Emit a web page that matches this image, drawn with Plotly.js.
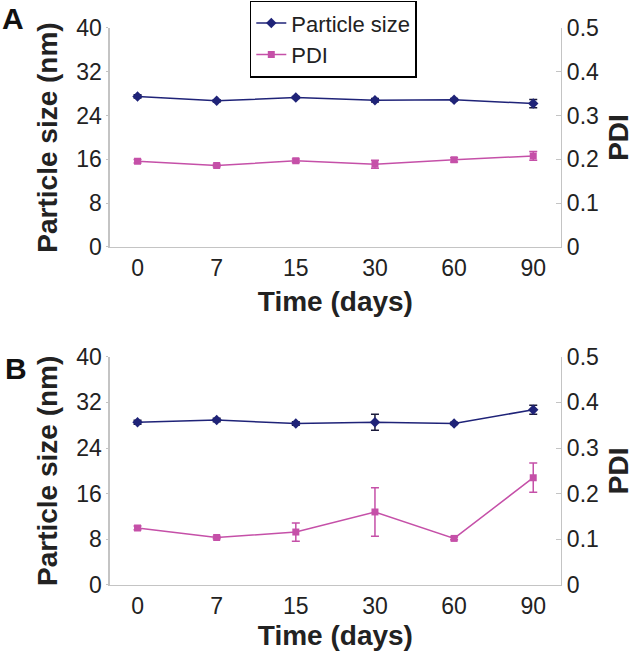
<!DOCTYPE html>
<html>
<head>
<meta charset="utf-8">
<script src="https://cdn.plot.ly/plotly-3.0.1.min.js"></script>
<style>
  html, body { margin: 0; padding: 0; background: #fff; }
  #chart { width: 634px; height: 651px; }
</style>
</head>
<body>
<div id="chart"></div>
<script>
// days after preparation
let days = ['0', '7', '15', '30', '60', '90'];

// panel A
let sizeA = [27.5, 26.7, 27.3, 26.8, 26.9, 26.2];
let sizeErrA = [0.3, 0.2, 0.2, 0.3, 0.2, 0.75];
let pdiA = [0.196, 0.186, 0.197, 0.189, 0.199, 0.208];
let pdiErrA = [0.004, 0.003, 0.004, 0.009, 0.005, 0.01];

// panel B
let sizeB = [28.5, 28.9, 28.3, 28.5, 28.3, 30.7];
let sizeErrB = [0.35, 0.3, 0.3, 1.4, 0.2, 0.8];
let pdiB = [0.125, 0.104, 0.116, 0.160, 0.102, 0.235];
let pdiErrB = [0.004, 0.003, 0.02, 0.053, 0.003, 0.032];

let navy = '#1f2378';
let pink = '#c550a8';
let font = '"Liberation Sans", Arial, sans-serif';

function sizeTrace(y, err, xa, ya, show) {
  return {
    x: days, y: y, xaxis: xa, yaxis: ya,
    name: 'Particle size', type: 'scatter', mode: 'lines+markers',
    showlegend: show,
    line: {color: navy, width: 1.5},
    marker: {symbol: 'diamond', size: 8, color: navy},
    error_y: {type: 'data', array: err, visible: true, color: '#1a1a3a', thickness: 1.5, width: 4}
  };
}

function pdiTrace(y, err, xa, ya, show) {
  return {
    x: days, y: y, xaxis: xa, yaxis: ya,
    name: 'PDI', type: 'scatter', mode: 'lines+markers',
    showlegend: show,
    line: {color: pink, width: 1.5},
    marker: {symbol: 'square', size: 7, color: pink},
    error_y: {type: 'data', array: err, visible: true, color: pink, thickness: 1.5, width: 4}
  };
}

let data = [
  sizeTrace(sizeA, sizeErrA, 'x', 'y', true),
  pdiTrace(pdiA, pdiErrA, 'x', 'y2', true),
  sizeTrace(sizeB, sizeErrB, 'x2', 'y3', false),
  pdiTrace(pdiB, pdiErrB, 'x2', 'y4', false)
];

let tickFont = {family: font, size: 23, color: '#222'};
let titleFont = {family: font, size: 28, color: '#222', weight: 'bold'};

function xAxis() {
  return {
    domain: [0.1735, 0.8845],
    type: 'category',
    showline: true, linecolor: '#c4c4c4', linewidth: 1.5,
    ticks: '', ticklen: 0,
    showgrid: false, zeroline: false,
    tickfont: tickFont,
    title: {text: '<b>Time (days)</b>', font: titleFont, standoff: 11}
  };
}

function leftAxis(dom) {
  return {
    domain: dom, range: [0, 40], dtick: 8,
    showline: true, linecolor: '#c4c4c4', linewidth: 1.5,
    ticks: 'outside', ticklen: 2, tickcolor: '#c4c4c4',
    showgrid: false, zeroline: false,
    tickfont: tickFont,
    title: {text: '<b>Particle size (nm)</b>', font: titleFont, standoff: 10}
  };
}

function rightAxis(anchor, over) {
  return {
    overlaying: over, anchor: anchor, side: 'right',
    range: [0, 0.5], dtick: 0.1,
    showline: true, linecolor: '#c4c4c4', linewidth: 1.5,
    ticks: 'inside', ticklen: 5, tickcolor: '#c4c4c4',
    showgrid: false, zeroline: false,
    tickfont: tickFont,
    title: {text: '<b>PDI</b>', font: titleFont, standoff: 17}
  };
}

let xa1 = xAxis(); xa1.anchor = 'y';
let xa2 = xAxis(); xa2.anchor = 'y3';

let layout = {
  width: 634,
  height: 651,
  margin: {l: 0, r: 0, t: 0, b: 0},
  paper_bgcolor: '#fff',
  plot_bgcolor: '#fff',
  font: {family: font, color: '#222'},
  showlegend: true,
  legend: {
    x: 0.394, y: 0.999, xanchor: 'left', yanchor: 'top',
    bordercolor: '#000', borderwidth: 1.5, bgcolor: '#fff',
    font: {family: font, size: 22, color: '#222'},
    tracegroupgap: 0
  },
  xaxis: xa1,
  xaxis2: xa2,
  yaxis: Object.assign(leftAxis([0.6206, 0.957]), {anchor: 'x'}),
  yaxis2: rightAxis('x', 'y'),
  yaxis3: Object.assign(leftAxis([0.1014, 0.4521]), {anchor: 'x2'}),
  yaxis4: rightAxis('x2', 'y3'),
  annotations: [
    {text: '<b>A</b>', x: 0, y: 1, xref: 'paper', yref: 'paper', xanchor: 'left', yanchor: 'top',
     showarrow: false, font: {family: font, size: 30, color: '#111'}},
    {text: '<b>B</b>', x: 0.004, y: 0.462, xref: 'paper', yref: 'paper', xanchor: 'left', yanchor: 'top',
     showarrow: false, font: {family: font, size: 30, color: '#111'}}
  ]
};

Plotly.newPlot('chart', data, layout, {displayModeBar: false, staticPlot: true});
</script>
</body>
</html>
